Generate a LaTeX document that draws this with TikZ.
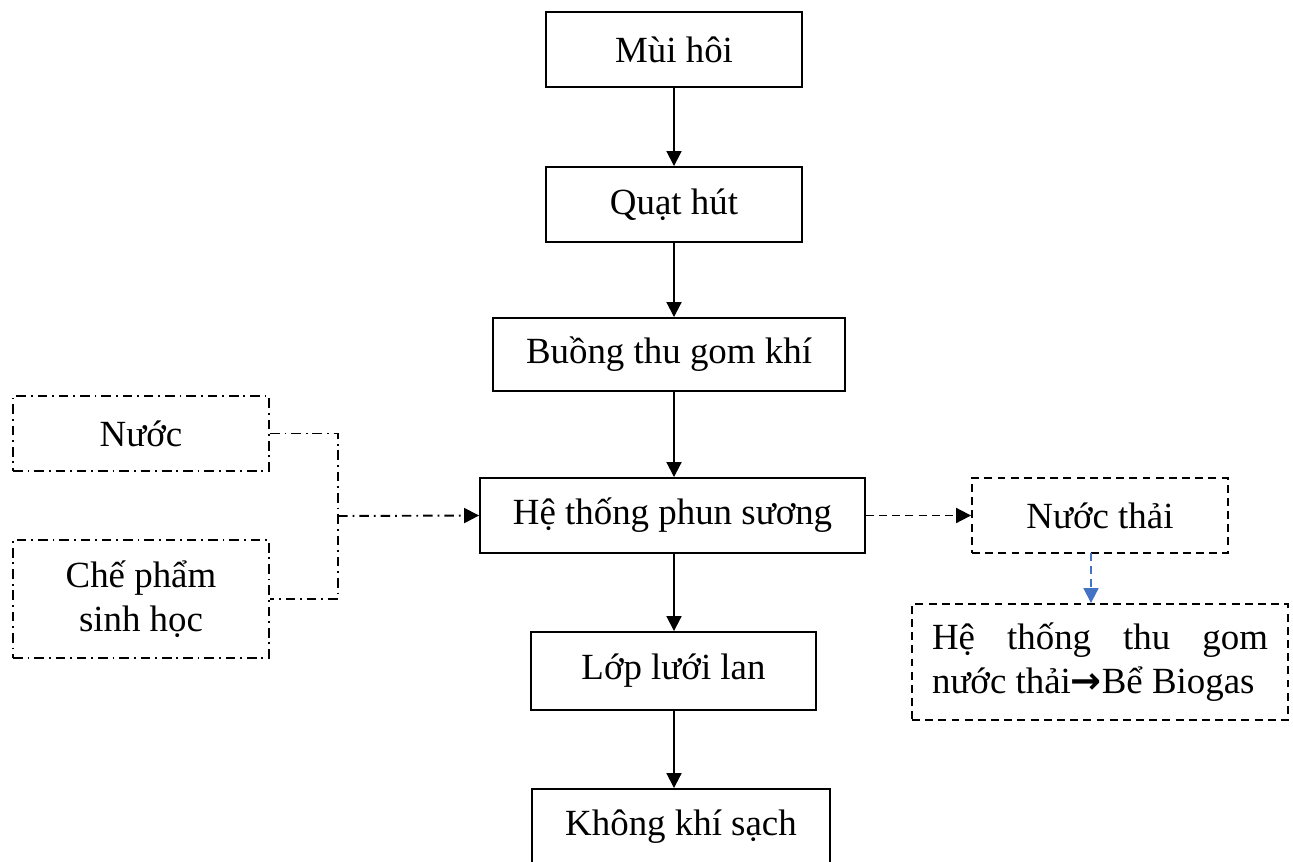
\documentclass[tikz,border=0pt]{standalone}
\usepackage{fontspec}
\setmainfont{Liberation Serif}
\newfontfamily\symfont{DejaVu Sans}
\usetikzlibrary{arrows.meta}
\definecolor{linkblue}{RGB}{68,114,196}

\begin{document}
\begin{tikzpicture}[
  x=0.02cm, y=-0.02cm,
  font=\fontsize{21}{25}\selectfont,
  line width=1.1pt,
  dashdot/.style={dash pattern=on 5.5pt off 2.8pt on 1pt off 2.8pt},
  dashline/.style={dash pattern=on 4.5pt off 3pt},
  box/.style={draw, minimum height=1.5cm, inner sep=0pt, align=center},
  dotbox/.style={box, dashdot},
  dashbox/.style={box, dashline},
  arr/.style={-{Triangle[length=8.5pt,width=8.5pt]}}
  ]

\useasboundingbox (0,0) rectangle (1293,861);

\node[box, minimum width=5.12cm] (mui) at (674,49.5) {Mùi hôi};
\node[box, minimum width=5.12cm] (quat) at (674,204.5) {Quạt hút};
\node[box, minimum width=7.04cm, minimum height=1.46cm] (buong) at (669,354.5) {Buồng thu gom khí};
\node[box, minimum width=7.7cm] (phun) at (672.5,515.5) {Hệ thống phun sương};
\node[box, minimum width=5.7cm, minimum height=1.56cm] (luoi) at (673.5,671) {Lớp lưới lan};
\node[box, minimum width=5.96cm] (sach) at (681,826.5) {Không khí sạch};

\node[dotbox, minimum width=5.12cm] (nuoc) at (141,433.5) {Nước};
\node[dotbox, minimum width=5.12cm, minimum height=2.36cm] (che) at (141,599) {Chế phẩm\\sinh học};
\coordinate (join) at (338,516);

\node[dashbox, minimum width=5.12cm] (thai) at (1100,515.5) {Nước thải};
\node[dashbox, text width=6.72cm, inner xsep=0.4cm, minimum height=2.32cm, align=justify] (biogas) at (1100,662)
  {Hệ thống thu gom\linebreak nước thải{\symfont\bfseries →}Bể Biogas};
\coordinate (drop) at (1091,553);

\draw[arr] (mui) -- (quat);
\draw[arr] (quat.south) -- (quat.south |- buong.north);
\draw[arr] (buong.south -| mui) -- (phun.north -| mui);
\draw[arr] (phun.south -| mui) -- (luoi.north -| mui);
\draw[arr] (luoi.south -| mui) -- (sach.north -| mui);

\draw[dashdot] (nuoc.east) -| (join) |- (che.east);
\draw[dashdot, arr] (join) -- (phun.west);

\draw[dashline, arr] (phun) -- (thai);
\draw[dashline, arr, linkblue] (drop) -- (drop |- biogas.north);

\end{tikzpicture}
\end{document}
